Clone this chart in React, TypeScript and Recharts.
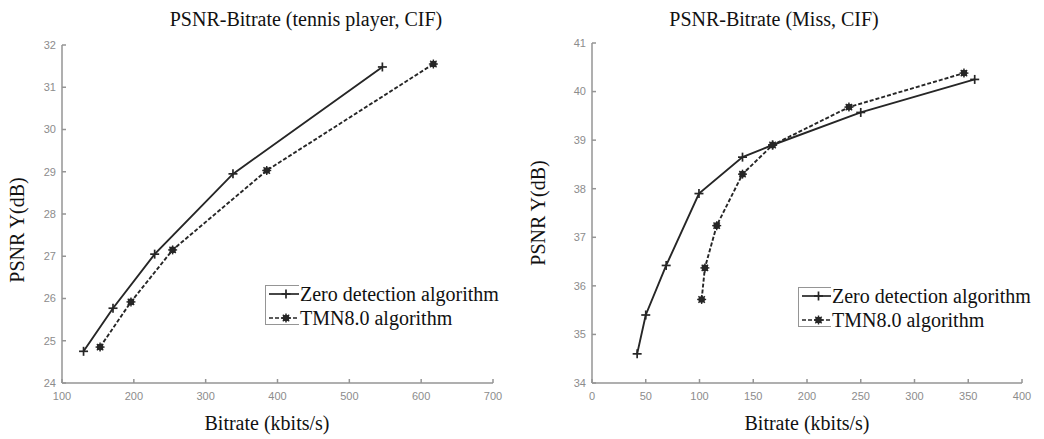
import React from 'react'
import { LineChart, Line, XAxis, YAxis, Legend } from 'recharts'

// tennis player, CIF
const tennisZeroRate = [130, 171, 229, 338, 546]
const tennisZeroPsnr = [24.75, 25.77, 27.05, 28.95, 31.48]
const tennisTmnRate = [153, 196, 254, 385, 617]
const tennisTmnPsnr = [24.85, 25.92, 27.15, 29.03, 31.55]
const tennisXTicks = [100, 200, 300, 400, 500, 600, 700]
const tennisYTicks = [24, 25, 26, 27, 28, 29, 30, 31, 32]

// Miss, CIF
const missZeroRate = [42, 50, 69, 99.5, 140, 168, 250, 356]
const missZeroPsnr = [34.6, 35.4, 36.42, 37.9, 38.65, 38.9, 39.57, 40.25]
const missTmnRate = [102, 105, 116, 140, 168, 239, 346]
const missTmnPsnr = [35.72, 36.37, 37.24, 38.3, 38.9, 39.68, 40.38]
const missXTicks = [0, 50, 100, 150, 200, 250, 300, 350, 400]
const missYTicks = [34, 35, 36, 37, 38, 39, 40, 41]

const seriesNames = ['Zero detection algorithm', 'TMN8.0 algorithm']

const toPoints = (xs: number[], ys: number[]) => xs.map((x, i) => ({ x, y: ys[i] }))

const serif = '"Liberation Serif", "Times New Roman", Times, serif'
const frame = '#959595'
const ink = '#262626'
const tickStyle = { fill: '#8c8c8c', fontSize: 11, fontFamily: '"Liberation Sans", Arial, sans-serif' }
const noLabel = () => <g />

const PlusDot = (props: any) => {
  const { cx, cy } = props
  if (cx == null || cy == null) return null
  return (
    <g stroke={ink} strokeWidth={1.7}>
      <line x1={cx - 4.5} y1={cy} x2={cx + 4.5} y2={cy} />
      <line x1={cx} y1={cy - 4.5} x2={cx} y2={cy + 4.5} />
    </g>
  )
}

const StarDot = (props: any) => {
  const { cx, cy } = props
  if (cx == null || cy == null) return null
  return (
    <g stroke={ink} strokeWidth={1.4}>
      <line x1={cx - 4.5} y1={cy} x2={cx + 4.5} y2={cy} />
      <line x1={cx} y1={cy - 4.5} x2={cx} y2={cy + 4.5} />
      <line x1={cx - 3.2} y1={cy - 3.2} x2={cx + 3.2} y2={cy + 3.2} />
      <line x1={cx - 3.2} y1={cy + 3.2} x2={cx + 3.2} y2={cy - 3.2} />
      <circle cx={cx} cy={cy} r={2.6} fill={ink} />
    </g>
  )
}

const LegendBox = ({ boxLeft, textLeft }: { boxLeft: number; textLeft: number }) => {
  const gap = textLeft - boxLeft
  return (
    <div style={{ position: 'relative', width: 260, height: 70, fontFamily: serif }}>
      <div
        style={{
          position: 'absolute', left: 0, top: 7, width: 240, height: 40,
          border: `1.5px solid ${frame}`, boxSizing: 'border-box',
        }}
      />
      <div style={{ position: 'absolute', left: gap, top: 0, width: 260 - gap, height: 70, background: '#fff' }} />
      <svg style={{ position: 'absolute', left: 0, top: 0 }} width={gap + 2} height={70}>
        <line x1={4} y1={16} x2={gap} y2={16} stroke={ink} strokeWidth={1.7} />
        <PlusDot cx={gap / 2 + 4} cy={16} />
        <line x1={4} y1={40} x2={gap} y2={40} stroke={ink} strokeWidth={1.7} strokeDasharray="4 2" />
        <StarDot cx={gap / 2 + 4} cy={40} />
      </svg>
      {seriesNames.map((name, i) => (
        <div
          key={name}
          style={{
            position: 'absolute', left: gap + 1, top: 4 + i * 24, fontFamily: serif,
            fontSize: 20, lineHeight: '24px', color: '#111', whiteSpace: 'nowrap',
          }}
        >
          {name}
        </div>
      ))}
    </div>
  )
}

type PanelProps = {
  left: number
  width: number
  margin: { top: number; right: number; bottom: number; left: number }
  zero: { x: number; y: number }[]
  tmn: { x: number; y: number }[]
  xDomain: [number, number]
  yDomain: [number, number]
  xTicks: number[]
  yTicks: number[]
  title: string
  titleX: number
  yLabelX: number
  yLabelY: number
  xLabelX: number
  legendLeft: number
  legendTop: number
  legendTextLeft: number
}

const textStyle: React.CSSProperties = {
  position: 'absolute', fontFamily: serif, fontSize: 20, whiteSpace: 'nowrap', color: '#111',
}

const Panel = (p: PanelProps) => (
  <div style={{ position: 'absolute', left: p.left, top: 0, width: p.width, height: 439 }}>
    <LineChart width={p.width} height={439} margin={p.margin}>
      <XAxis
        type="number" dataKey="x" domain={p.xDomain} ticks={p.xTicks} allowDataOverflow
        stroke={frame} strokeWidth={1.5} tickSize={-4} tickMargin={13} height={30}
        tick={tickStyle} tickLine={{ stroke: frame }}
      />
      <XAxis
        xAxisId="top" orientation="top" type="number" domain={p.xDomain} ticks={p.xTicks} allowDataOverflow
        stroke={frame} strokeWidth={1.5} tickSize={-4} height={0} tick={noLabel} tickLine={{ stroke: frame }}
      />
      <YAxis
        type="number" dataKey="y" domain={p.yDomain} ticks={p.yTicks} allowDataOverflow
        stroke={frame} strokeWidth={1.5} tickSize={-4} tickMargin={10} width={40}
        tick={tickStyle} tickLine={{ stroke: frame }}
      />
      <YAxis
        yAxisId="right" orientation="right" type="number" domain={p.yDomain} ticks={p.yTicks} allowDataOverflow
        stroke={frame} strokeWidth={1.5} tickSize={-4} width={0} tick={noLabel} tickLine={{ stroke: frame }}
      />
      <Legend
        layout="vertical" align="center" verticalAlign="middle"
        wrapperStyle={{ position: 'absolute', left: p.legendLeft, top: p.legendTop, width: 260, height: 70 }}
        content={() => <LegendBox boxLeft={p.legendLeft} textLeft={p.legendTextLeft} />}
      />
      <Line
        name={seriesNames[0]} data={p.zero} dataKey="y" type="linear" stroke={ink} strokeWidth={1.9}
        dot={<PlusDot />} activeDot={false} isAnimationActive={false}
      />
      <Line
        name={seriesNames[1]} data={p.tmn} dataKey="y" type="linear" stroke={ink} strokeWidth={1.9}
        strokeDasharray="4 2" dot={<StarDot />} activeDot={false} isAnimationActive={false}
      />
    </LineChart>
    <div style={{ ...textStyle, left: p.titleX, top: 8, transform: 'translateX(-50%)' }}>{p.title}</div>
    <div style={{ ...textStyle, left: p.yLabelX, top: p.yLabelY, transform: 'translate(-50%, -50%) rotate(-90deg)' }}>
      PSNR Y(dB)
    </div>
    <div style={{ ...textStyle, left: p.xLabelX, top: 412, transform: 'translateX(-50%)' }}>Bitrate (kbits/s)</div>
  </div>
)

export default function App() {
  return (
    <div style={{ position: 'absolute', left: 0, top: 0, width: 1044, height: 439, background: '#fff', overflow: 'hidden' }}>
      <Panel
        left={0} width={520}
        margin={{ top: 45, right: 27, bottom: 26, left: 22 }}
        zero={toPoints(tennisZeroRate, tennisZeroPsnr)}
        tmn={toPoints(tennisTmnRate, tennisTmnPsnr)}
        xDomain={[100, 700]} yDomain={[24, 32]}
        xTicks={tennisXTicks} yTicks={tennisYTicks}
        title="PSNR-Bitrate (tennis player, CIF)" titleX={306}
        yLabelX={17} yLabelY={230} xLabelX={267}
        legendLeft={265} legendTop={278} legendTextLeft={299}
      />
      <Panel
        left={520} width={524}
        margin={{ top: 43, right: 22, bottom: 26, left: 32 }}
        zero={toPoints(missZeroRate, missZeroPsnr)}
        tmn={toPoints(missTmnRate, missTmnPsnr)}
        xDomain={[0, 400]} yDomain={[34, 41]}
        xTicks={missXTicks} yTicks={missYTicks}
        title="PSNR-Bitrate (Miss, CIF)" titleX={254}
        yLabelX={18} yLabelY={213} xLabelX={287}
        legendLeft={278} legendTop={280} legendTextLeft={311}
      />
    </div>
  )
}
